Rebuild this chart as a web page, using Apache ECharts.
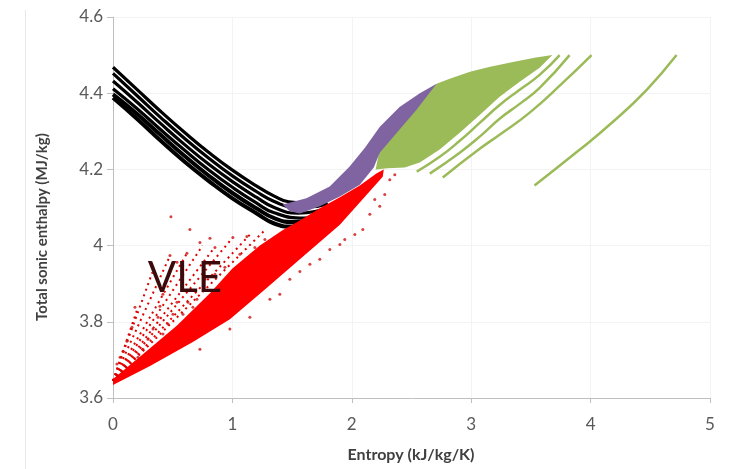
<!DOCTYPE html>
<html>
<head>
<meta charset="utf-8">
<script src="https://cdn.jsdelivr.net/npm/echarts@6/dist/echarts.min.js"></script>
<style>html,body{margin:0;padding:0;background:#fff}#c{width:729px;height:469px}</style>
</head>
<body>
<div id="c"></div>
<script>
// ---- axis ticks ----
const xTicks = [0, 1, 2, 3, 4, 5];
const yTicks = [3.6, 3.8, 4.0, 4.2, 4.4, 4.6];

// ---- black (superheated) curves [entropy, enthalpy] ----
const black1 = [[0,4.468],[0.2,4.41],[0.4,4.352],[0.6,4.297],[0.8,4.245],[1.0,4.198],[1.2,4.157],[1.35,4.13],[1.47,4.115],[1.6,4.112],[1.75,4.12]];
const black2 = [[0,4.452],[0.2,4.394],[0.4,4.336],[0.6,4.281],[0.8,4.23],[1.0,4.183],[1.2,4.142],[1.35,4.116],[1.5,4.102],[1.65,4.102],[1.8,4.11]];
const black3 = [[0,4.432],[0.2,4.377],[0.4,4.32],[0.6,4.265],[0.8,4.214],[1.0,4.168],[1.2,4.127],[1.35,4.1],[1.55,4.085],[1.7,4.09],[1.82,4.102]];
const black4 = [[0,4.412],[0.2,4.36],[0.4,4.304],[0.6,4.25],[0.8,4.199],[1.0,4.153],[1.2,4.112],[1.35,4.086],[1.6,4.072],[1.75,4.082],[1.82,4.092]];
const black5 = [[0,4.397],[0.2,4.346],[0.4,4.29],[0.6,4.235],[0.8,4.184],[1.0,4.138],[1.2,4.098],[1.35,4.072],[1.5,4.062],[1.7,4.068],[1.8,4.08]];
const black6 = [[0,4.388],[0.2,4.333],[0.4,4.275],[0.6,4.22],[0.8,4.17],[1.0,4.124],[1.2,4.085],[1.35,4.058],[1.5,4.05],[1.65,4.058],[1.78,4.075]];

// ---- purple band outline ----
const purpleBand = [[1.42,4.108],[1.62,4.124],[1.815,4.155],[1.98,4.207],[2.11,4.257],[2.235,4.312],[2.40,4.364],[2.57,4.40],[2.71,4.425],
  [2.544,4.357],[2.377,4.296],[2.234,4.244],[2.184,4.205],[2.067,4.160],[1.90,4.129],[1.732,4.103],[1.565,4.084],[1.48,4.09]];

// ---- green filled region outline ----
const greenBand = [[2.71,4.425],[2.82,4.438],[2.99,4.456],[3.15,4.469],[3.35,4.482],[3.53,4.493],[3.68,4.5],
  [3.573,4.467],[3.406,4.43],[3.238,4.391],[3.071,4.343],[2.904,4.296],[2.736,4.252],[2.569,4.218],[2.443,4.205],[2.3,4.203],[2.2,4.2],[2.25,4.28],[2.5,4.37]];

// ---- separate green curves ----
const green1 = [[2.544,4.194],[2.736,4.233],[2.904,4.275],[3.071,4.322],[3.238,4.369],[3.406,4.409],[3.573,4.448],[3.741,4.5]];
const green2 = [[2.653,4.189],[2.904,4.244],[3.071,4.286],[3.238,4.333],[3.406,4.372],[3.573,4.414],[3.824,4.5]];
const green3 = [[2.762,4.179],[3.071,4.254],[3.238,4.291],[3.49,4.349],[3.766,4.427],[4.008,4.5]];
const green4 = [[3.53,4.158],[3.91,4.252],[4.18,4.323],[4.47,4.409],[4.72,4.5]];

// ---- red (VLE) dense band outline ----
const redBand = [[0,3.65],[0.25,3.715],[0.536,3.79],[0.812,3.875],[1.0,3.94],[1.23,4.0],[1.42,4.04],[1.565,4.066],[1.732,4.098],[1.9,4.127],[2.067,4.158],[2.209,4.19],[2.268,4.2],
  [2.259,4.181],[1.90,4.055],[1.565,3.964],[1.272,3.885],[0.979,3.807],[0.669,3.747],[0.31,3.684],[0,3.634]];

// ---- red (VLE) fan rays: start and end of each dotted row ----
const redRay1 = [[0,3.645],[0.2,3.83]];
const redRay2 = [[0,3.645],[0.33,3.93]];
const redRay3 = [[0,3.645],[0.48,3.975]];
const redRay4 = [[0,3.645],[0.62,3.98]];
const redRay5 = [[0,3.645],[0.75,4.0]];
const redRay6 = [[0,3.645],[0.85,3.995]];
const redRay7 = [[0,3.645],[1.0,4.02]];
const redRay8 = [[0,3.645],[1.15,4.03]];
const redRay9 = [[0,3.645],[1.27,4.04]];

// ---- red (VLE) scattered points ----
const redDots = [[0.033,3.689],[0.059,3.707],[0.084,3.723],[0.117,3.749],[0.159,3.786],[0.184,3.838],[0.209,3.707],[0.251,3.728],
  [0.293,3.754],[0.335,3.781],[0.377,3.812],[0.393,3.841],[0.418,3.872],[0.418,3.768],[0.46,3.794],[0.502,3.82],[0.536,3.851],
  [0.477,3.974],[0.485,4.076],[0.536,3.956],[0.619,3.98],[0.644,4.042],[0.586,3.82],[0.628,3.851],[0.669,3.838],[0.703,3.859],
  [0.728,4.008],[0.812,4.019],[0.854,3.995],[0.77,3.912],[0.854,3.925],[0.937,3.943],[1.004,4.021],[1.121,4.024],[1.063,3.977],
  [1.188,3.995],[1.272,4.016],[0.895,3.885],[1.9,4.003],[2.092,4.042],[2.234,4.103],[2.318,4.173],[2.276,4.134],[2.151,4.082],
  [2.025,4.029],[1.816,3.99],[1.732,3.964],[1.649,3.951],[1.565,3.932],[1.481,3.912],[1.941,4.016],[2.192,4.121],[2.36,4.186],
  [1.146,3.812],[1.314,3.859],[1.397,3.872],[0.979,3.781],[0.728,3.728]];

const chart = echarts.init(document.getElementById('c'), null, {renderer: 'canvas'});

function polygonSeries(name, pts, color, z) {
  return {
    name: name, type: 'custom', coordinateSystem: 'cartesian2d', data: pts, z: z, silent: true,
    renderItem: function (params, api) {
      if (params.dataIndex !== 0) return null;
      return { type: 'polygon', shape: { points: pts.map(p => api.coord(p)) }, style: { fill: color } };
    }
  };
}
function lineSeries(name, pts, color, width, z, dash, smooth) {
  return {
    name: name, type: 'line', data: pts, smooth: smooth !== false, symbol: 'none', z: z, silent: true,
    lineStyle: { color: color, width: width, type: dash || 'solid' }
  };
}

const font = 'Lato, "Open Sans", sans-serif';
const blackSets = [black1, black2, black3, black4, black5, black6];
const redRays = [redRay1, redRay2, redRay3, redRay4, redRay5, redRay6, redRay7, redRay8, redRay9];
const series = [];
blackSets.forEach((b, i) => series.push(lineSeries('b' + i, b, '#000', i < 4 ? 3.2 : 4, 2)));
series.push(polygonSeries('green', greenBand, '#9bbb59', 3));
[green1, green2, green3, green4].forEach((g, i) => series.push(lineSeries('g' + i, g, '#9bbb59', 2.5, 3)));
series.push(polygonSeries('purple', purpleBand, '#8064a2', 4));
redRays.forEach((r, i) => series.push(lineSeries('r' + i, r, '#e00000', 2, 5, [2, 4], false)));
series.push(polygonSeries('red', redBand, '#ff0000', 5));
series.push({ name: 'redDots', type: 'scatter', data: redDots, symbolSize: 3, z: 6, silent: true,
  itemStyle: { color: '#cc1111' } });

chart.setOption({
  animation: false,
  backgroundColor: '#fff',
  grid: { left: 113, right: 19, top: 17, bottom: 71, containLabel: false },
  xAxis: {
    type: 'value', min: xTicks[0], max: xTicks[xTicks.length - 1], interval: 1,
    axisLine: { show: true, onZero: false, lineStyle: { color: '#bfbfbf', width: 1 } },
    axisTick: { show: true, length: 5, lineStyle: { color: '#bfbfbf' } },
    axisLabel: { color: '#595959', fontSize: 17, fontFamily: font, margin: 18 },
    splitLine: { show: true, lineStyle: { color: '#f3f3f3' } }
  },
  yAxis: {
    type: 'value', min: yTicks[0], max: yTicks[yTicks.length - 1], interval: 0.2,
    axisLine: { show: true, lineStyle: { color: '#bfbfbf', width: 1 } },
    axisTick: { show: true, length: 6, lineStyle: { color: '#bfbfbf' } },
    axisLabel: { color: '#595959', fontSize: 17, fontFamily: font, margin: 10,
      formatter: v => String(+v.toFixed(1)) },
    splitLine: { show: true, lineStyle: { color: '#f3f3f3' } }
  },
  graphic: [
    { type: 'line', shape: { x1: 25.5, y1: 10, x2: 25.5, y2: 469 }, style: { stroke: '#e8e8e8', lineWidth: 1 }, silent: true },
    { type: 'text', x: 411, y: 455, style: { text: 'Entropy (kJ/kg/K)', font: 'bold 16px ' + font, fill: '#404040', textAlign: 'center', textVerticalAlign: 'middle' } },
    { type: 'text', x: 42, y: 227, rotation: Math.PI / 2, style: { text: 'Total sonic enthalpy (MJ/kg)', font: 'bold 15px ' + font, fill: '#404040', textAlign: 'center', textVerticalAlign: 'middle' } },
    { type: 'text', x: 185, y: 278, z: 100, style: { text: 'VLE', font: '42px ' + font, fill: '#3c0a0a', textAlign: 'center', textVerticalAlign: 'middle' } }
  ],
  series: series
});
</script>
</body>
</html>
